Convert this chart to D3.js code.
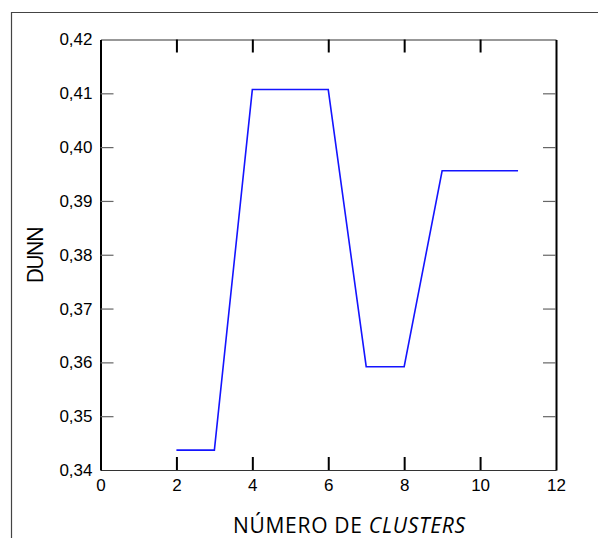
<!DOCTYPE html>
<html>
<head>
<meta charset="utf-8">
<script src="https://cdn.jsdelivr.net/npm/d3@7"></script>
<style>
  body { margin: 0; background: #fff; }
  .tick-label { font-family: "Liberation Sans", Arial, sans-serif; font-size: 17px; fill: #000; }
  .axis-title { font-family: "Open Sans", sans-serif; font-size: 21px; fill: #000; }
</style>
</head>
<body>
<div id="chart-container"></div>
<script>
//data
var clusters = [2, 3, 4, 5, 6, 7, 8, 9, 10, 11];
var dunnValues = [0.3437, 0.3437, 0.4107, 0.4107, 0.4107, 0.3592, 0.3592, 0.3956, 0.3956, 0.3956];
var xTicks = [0, 2, 4, 6, 8, 10, 12];
var yTicks = [0.34, 0.35, 0.36, 0.37, 0.38, 0.39, 0.40, 0.41, 0.42];

//sizes
var outerW = 598,
    outerH = 538,
    margin = { left: 100.5, right: 42, top: 39.5, bottom: 68 },
    w = outerW - margin.left - margin.right,
    h = outerH - margin.top - margin.bottom,
    tickLen = 13;

var svg = d3.select('#chart-container').append('svg')
    .attr('width', outerW)
    .attr('height', outerH);

//outer frame
svg.append('path')
    .attr('d', 'M11.5,' + (outerH + 2) + 'V12.5H' + (outerW + 2))
    .attr('fill', 'none')
    .attr('stroke', '#444')
    .attr('stroke-width', 1.2);

var g = svg.append('g')
    .attr('transform', 'translate(' + margin.left + ',' + margin.top + ')');

//scales
var xScale = d3.scaleLinear().domain([0, 12]).range([0, w]);
var yScale = d3.scaleLinear().domain([0.34, 0.42]).range([h, 0]);

var fmt = function(d) { return d3.format('.2f')(d).replace('.', ','); };

//axes, ticks pointing inward on all four sides
var xAxisBottom = d3.axisBottom(xScale).tickValues(xTicks).tickSizeInner(-tickLen).tickSizeOuter(0).tickPadding(9);
var xAxisTop = d3.axisTop(xScale).tickValues(xTicks).tickSizeInner(-tickLen).tickSizeOuter(0).tickFormat('');
var yAxisLeft = d3.axisLeft(yScale).tickValues(yTicks).tickSizeInner(-tickLen).tickSizeOuter(0).tickPadding(8).tickFormat(fmt);
var yAxisRight = d3.axisRight(yScale).tickValues(yTicks).tickSizeInner(-tickLen).tickSizeOuter(0).tickFormat('');

var bottomG = g.append('g').attr('transform', 'translate(0,' + h + ')').call(xAxisBottom);
var topG = g.append('g').call(xAxisTop);
var leftG = g.append('g').call(yAxisLeft);
var rightG = g.append('g').attr('transform', 'translate(' + w + ',0)').call(yAxisRight);

[bottomG, topG].forEach(function(a) {
    a.select('.domain').attr('stroke', '#333').attr('stroke-width', 1.2);
    a.selectAll('.tick line').attr('stroke', '#000').attr('stroke-width', 2);
});
[leftG, rightG].forEach(function(a) {
    a.select('.domain').attr('stroke', '#000').attr('stroke-width', 2);
    a.selectAll('.tick line').attr('stroke', '#666').attr('stroke-width', 1.2);
});
// hide ticks at the corners
bottomG.selectAll('.tick line').filter(function(d) { return d == 0 || d == 12; }).remove();
topG.selectAll('.tick line').filter(function(d) { return d == 0 || d == 12; }).remove();
leftG.selectAll('.tick line').filter(function(d) { return d == 0.34 || d == 0.42; }).remove();
rightG.selectAll('.tick line').filter(function(d) { return d == 0.34 || d == 0.42; }).remove();

g.selectAll('.tick text')
    .attr('class', 'tick-label')
    .attr('font-family', null)
    .attr('font-size', null);

//line
var line = d3.line()
    .x(function(d, i) { return xScale(clusters[i]); })
    .y(function(d) { return yScale(d); });

g.append('path')
    .datum(dunnValues)
    .attr('d', line)
    .attr('fill', 'none')
    .attr('stroke', '#1414ff')
    .attr('stroke-width', 1.6);

//axis titles
var xTitle = svg.append('text')
    .attr('class', 'axis-title')
    .attr('x', 349)
    .attr('y', 533)
    .attr('text-anchor', 'middle')
    .attr('textLength', 232);
xTitle.append('tspan').text('NÚMERO DE ');
xTitle.append('tspan').attr('font-style', 'italic').text('CLUSTERS');

svg.append('text')
    .attr('class', 'axis-title')
    .attr('transform', 'translate(43,' + (margin.top + h / 2) + ') rotate(-90)')
    .attr('text-anchor', 'middle')
    .attr('textLength', 57)
    .text('DUNN');
</script>
</body>
</html>
